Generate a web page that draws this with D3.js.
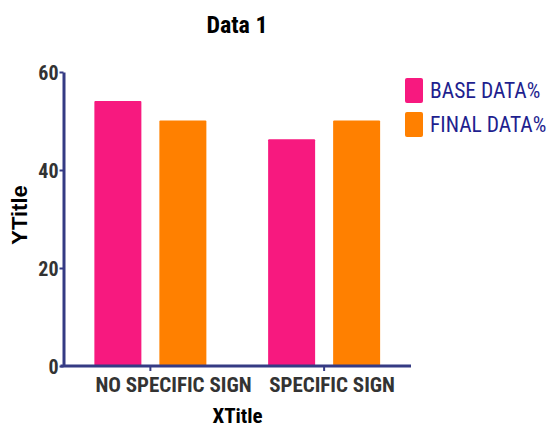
<!DOCTYPE html>
<html><head><meta charset="utf-8">
<script src="https://cdn.jsdelivr.net/npm/d3@7"></script>
<style>body{margin:0;background:#fff}svg{display:block}</style>
</head><body>
<svg id="c" width="550" height="427"></svg>
<script>
const categories = ["NO SPECIFIC SIGN", "SPECIFIC SIGN"];
const seriesNames = ["BASE DATA%", "FINAL DATA%"];
const baseData = [54.1, 46.3];
const finalData = [50.1, 50.1];
const yTicks = [0, 20, 40, 60];
const colors = ["#F7197F", "#FF8000"];

const svg = d3.select("#c");
const fontN = "'Roboto Condensed','Liberation Sans Narrow','Arial Narrow',sans-serif";
const font = "'Liberation Sans',Arial,sans-serif";
const mLeft = 63.5, mRight = 411, mTop = 72, mBottom = 366;

const x = d3.scaleBand().domain(categories).range([mLeft, mRight]).paddingInner(0).paddingOuter(0);
const x1 = d3.scaleBand().domain(seriesNames).range([0, x.bandwidth()]).paddingInner(0.277).paddingOuter(0.475);
const y = d3.scaleLinear().domain([0, 60]).range([mBottom, mTop]);

const data = categories.map((c, i) => ({cat: c, vals: [baseData[i], finalData[i]]}));

const g = svg.append("g");
g.selectAll("g.grp").data(data).join("g")
  .attr("transform", d => `translate(${x(d.cat)},0)`)
  .selectAll("rect").data(d => d.vals.map((v, j) => ({v, s: seriesNames[j], j})))
  .join("rect")
  .attr("x", d => x1(d.s))
  .attr("width", x1.bandwidth())
  .attr("y", d => y(d.v))
  .attr("height", d => y(0) - y(d.v))
  .attr("rx", 1)
  .attr("fill", d => colors[d.j]);

const axisColor = "#353B84";
// y axis
const ya = svg.append("g").attr("transform", `translate(${mLeft},0)`)
  .call(d3.axisLeft(y).tickValues(yTicks).tickSize(4).tickSizeOuter(0));
ya.select(".domain").attr("stroke", axisColor).attr("stroke-width", 3);
ya.selectAll(".tick line").attr("stroke", axisColor).attr("stroke-width", 2);
ya.selectAll(".tick text").attr("fill", "#333").attr("font-family", fontN)
  .attr("font-weight", "bold").attr("font-size", 20).attr("x", -5).attr("dy", "0.35em");

// x axis
const xa = svg.append("g").attr("transform", `translate(0,${mBottom})`)
  .call(d3.axisBottom(x).tickSize(5).tickSizeOuter(0));
xa.select(".domain").attr("stroke", axisColor).attr("stroke-width", 3).attr("d", `M${mLeft-3},0H${mRight}`);
xa.selectAll(".tick line").attr("stroke", axisColor).attr("stroke-width", 2);
xa.selectAll(".tick text").attr("fill", "#333").attr("font-family", fontN)
  .attr("font-weight", "bold").attr("font-size", 21).attr("y", 11).attr("dy", "0.71em")
  .attr("text-anchor", "start").attr("x", -55);

// titles
svg.append("text").attr("x", 237).attr("y", 33).attr("text-anchor", "middle")
  .attr("font-family", fontN).attr("font-weight", "bold").attr("font-size", 24).attr("fill", "#000").text("Data 1");
svg.append("text").attr("x", 237.5).attr("y", 423).attr("text-anchor", "middle")
  .attr("font-family", fontN).attr("font-weight", "bold").attr("font-size", 21).attr("fill", "#000").text("XTitle");
svg.append("text").attr("transform", "translate(27,215) rotate(-90)").attr("text-anchor", "middle")
  .attr("font-family", font).attr("font-weight", "bold").attr("font-size", 22).attr("fill", "#000").text("YTitle");

// legend
const leg = svg.append("g").attr("transform", "translate(405,78)");
const li = leg.selectAll("g").data(seriesNames).join("g").attr("transform", (d, i) => `translate(0,${i * 34})`);
li.append("rect").attr("width", 18).attr("height", 25).attr("rx", 2).attr("fill", (d, i) => colors[i]);
li.append("text").attr("x", 25).attr("y", 20).attr("font-family", fontN).attr("font-size", 21.5)
  .attr("fill", "#1F1F8F").text(d => d);
</script>
</body></html>
